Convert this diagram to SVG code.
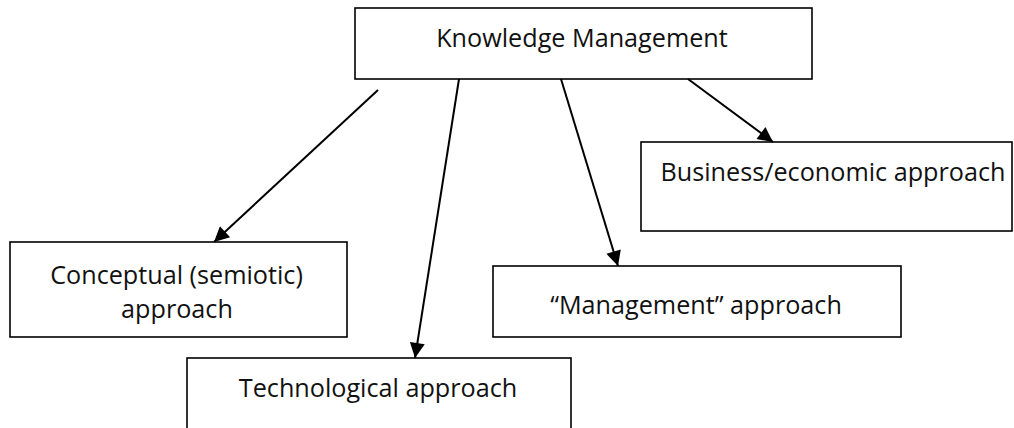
<svg xmlns="http://www.w3.org/2000/svg" width="1014" height="428" viewBox="0 0 1014 428">
<style>
.box{fill:#fff;stroke:#000;stroke-width:1.6}
.t{font-family:"Open Sans","Noto Sans","DejaVu Sans",sans-serif;font-size:25.2px;fill:#111;text-anchor:middle}
.c{stroke:#000;stroke-width:2;fill:none;marker-end:url(#ah)}
</style>
<defs>
<marker id="ah" viewBox="0 0 10 10" refX="10" refY="5" markerWidth="8.5" markerHeight="7.5" orient="auto" markerUnits="strokeWidth">
<path d="M0,0L10,5L0,10z" fill="#000"/>
</marker>
</defs>
<rect width="1014" height="428" fill="#fff"/>
<g id="n-km"><rect class="box" x="355" y="8" width="457" height="71"/><text class="t" x="582" y="47">Knowledge Management</text></g>
<g id="n-business"><rect class="box" x="641" y="142" width="371" height="89"/><text class="t" x="833" y="181">Business/economic approach</text></g>
<g id="n-conceptual"><rect class="box" x="10" y="242" width="337" height="95"/><text class="t" x="176.5" y="284">Conceptual (semiotic)</text><text class="t" x="177" y="318">approach</text></g>
<g id="n-management"><rect class="box" x="493" y="266" width="408" height="71"/><text class="t" x="696" y="314">“Management” approach</text></g>
<g id="n-tech"><rect class="box" x="187" y="358" width="384" height="80"/><text class="t" x="378" y="397">Technological approach</text></g>
<g id="connectors">
<line class="c" x1="378" y1="90" x2="214" y2="242"/>
<line class="c" x1="459" y1="79" x2="415" y2="358"/>
<line class="c" x1="561" y1="79" x2="618" y2="266"/>
<line class="c" x1="688" y1="79" x2="773" y2="142"/>
</g>
</svg>
